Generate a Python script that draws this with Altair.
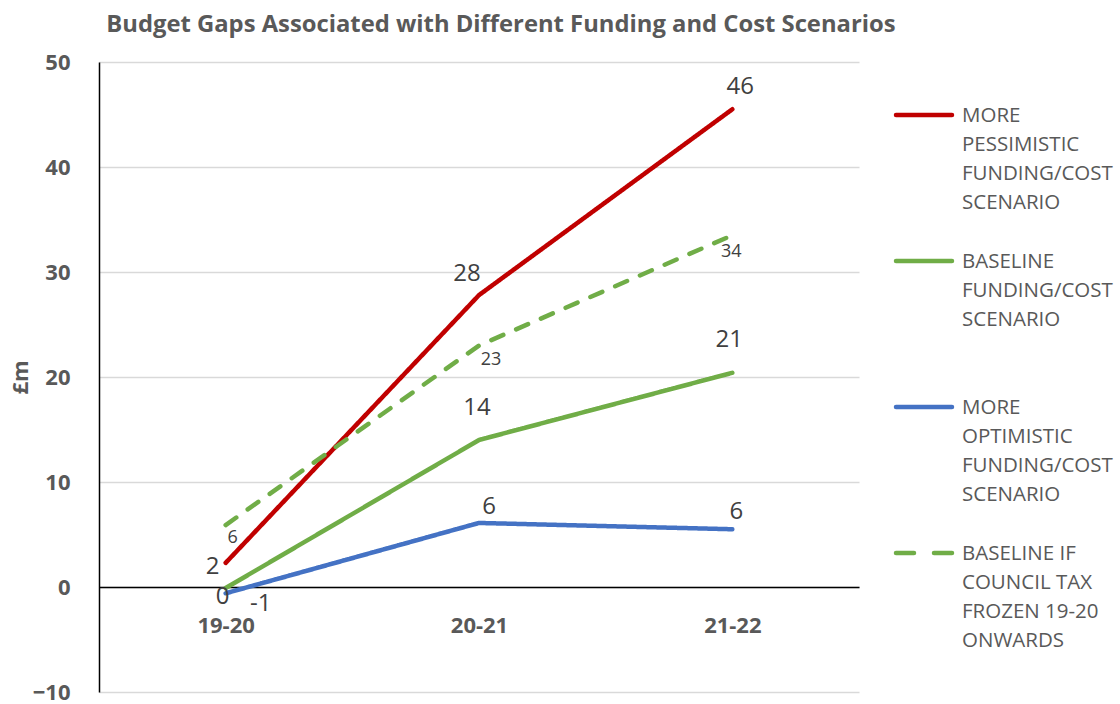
import altair as alt
import pandas as pd

# ---------------- data ----------------
periods = ["19-20", "20-21", "21-22"]
series_keys = ["pessimistic", "baseline", "optimistic", "frozen"]
legend_texts = [
    "MORE\nPESSIMISTIC\nFUNDING/COST\nSCENARIO",
    "BASELINE\nFUNDING/COST\nSCENARIO",
    "MORE\nOPTIMISTIC\nFUNDING/COST\nSCENARIO",
    "BASELINE IF\nCOUNCIL TAX\nFROZEN 19-20\nONWARDS",
]
pessimistic = [2.3, 27.8, 45.5]
baseline = [-0.1, 14.0, 20.4]
optimistic = [-0.6, 6.1, 5.5]
frozen = [5.9, 23.0, 33.5]

pessimistic_labels = ["2", "28", "46"]
baseline_labels = ["0", "14", "21"]
optimistic_labels = ["-1", "6", "6"]
frozen_labels = ["6", "23", "34"]

y_ticks = [-10, 0, 10, 20, 30, 40, 50]
colors = ["#C00000", "#70AD47", "#4472C4", "#70AD47"]

# ---------------- styles ----------------
FONT = "Open Sans"
AXIS_TXT = "#595959"
LABEL_TXT = "#404040"
# label offsets (dx, dy) per series and period, pure styling
label_style = {
    "pessimistic": {"size": 24, "offsets": [(-13, 4), (-12, -21), (8, -22)]},
    "baseline": {"size": 24, "offsets": [(-3, 9), (-2, -32), (-3, -33)]},
    "optimistic": {"size": 24, "offsets": [(35, 11), (10, -16), (4, -17)]},
    "frozen": {"size": 18, "offsets": [(7, 13), (12, 14), (-1, 17)]},
}

# ---------------- tables ----------------
values = {"pessimistic": pessimistic, "baseline": baseline,
          "optimistic": optimistic, "frozen": frozen}
labels = {"pessimistic": pessimistic_labels, "baseline": baseline_labels,
          "optimistic": optimistic_labels, "frozen": frozen_labels}
rows = []
for s in series_keys:
    for i, p in enumerate(periods):
        rows.append({"series": s, "period": p, "value": values[s][i],
                     "label": labels[s][i]})
df = pd.DataFrame(rows)
legend_df = pd.DataFrame({"series": series_keys, "text": legend_texts})

color_scale = alt.Scale(domain=series_keys, range=colors)

x_enc = alt.X(
    "period:N", sort=periods,
    scale=alt.Scale(type="point", padding=0.5),
    axis=alt.Axis(title=None, labelAngle=0, labelFont=FONT, labelFontSize=22,
                  labelFontWeight="bold", labelColor=AXIS_TXT, labelPadding=28,
                  ticks=False, domain=True, domainColor="#000000",
                  domainWidth=1.5, grid=False, offset=-105),
)
y_enc = alt.Y(
    "value:Q",
    scale=alt.Scale(domain=[-10, 50], nice=False, zero=False),
    axis=alt.Axis(values=y_ticks, title="£m", titleFont=FONT, titleFontSize=22,
                  titleFontWeight="bold", titleColor=AXIS_TXT, titlePadding=0,
                  labelFont=FONT, labelFontSize=22, labelFontWeight="bold",
                  labelColor=AXIS_TXT, labelPadding=29, ticks=False,
                  domainColor="#000000", domainWidth=1.5, grid=True,
                  gridColor="#D9D9D9", gridWidth=1.5),
)

lines = alt.Chart(df).mark_line(strokeWidth=4.5, strokeCap="round",
                                strokeJoin="round").encode(
    x=x_enc, y=y_enc,
    color=alt.Color("series:N", scale=color_scale, legend=None),
    strokeDash=alt.StrokeDash(
        "series:N",
        scale=alt.Scale(domain=series_keys,
                        range=[[1, 0], [1, 0], [1, 0], [13, 14]]),
        legend=None),
    detail="series:N",
)

layers = [lines]
for s in series_keys:
    st = label_style[s]
    for i, p in enumerate(periods):
        dx, dy = st["offsets"][i]
        layers.append(
            alt.Chart(df).transform_filter(
                (alt.datum.series == s) & (alt.datum.period == p)
            ).mark_text(font=FONT, fontSize=st["size"], color=LABEL_TXT,
                        align="center", baseline="middle", dx=dx, dy=dy)
            .encode(x=alt.X("period:N", sort=periods), y="value:Q",
                    text="label:N")
        )

main = alt.layer(*layers).properties(width=760, height=630)

leg_y = alt.Y("series:N", sort=series_keys,
              scale=alt.Scale(type="point", padding=0.363), axis=None)
leg_rule = alt.Chart(legend_df).mark_rule(strokeWidth=4.5, strokeCap="round").encode(
    y=leg_y, x=alt.value(2), x2=alt.value(58),
    color=alt.Color("series:N", scale=color_scale, legend=None),
    strokeDash=alt.StrokeDash(
        "series:N",
        scale=alt.Scale(domain=series_keys,
                        range=[[1, 0], [1, 0], [1, 0], [18, 20]]),
        legend=None),
)
leg_text = alt.Chart(legend_df).mark_text(
    font=FONT, fontSize=20.5, color=AXIS_TXT, align="left",
    baseline="alphabetic", dy=7, lineBreak="\n", lineHeight=29,
).encode(y=leg_y, x=alt.value(68), text="text:N")
legend = alt.layer(leg_rule, leg_text).properties(width=222, height=544)

chart = alt.hconcat(main, legend, spacing=35, bounds="flush").resolve_scale(
    strokeDash="independent"
).properties(
    padding={"left": 9, "top": 13, "right": 0, "bottom": 0},
    title=alt.Title("Budget Gaps Associated with Different Funding and Cost Scenarios",
                    anchor="start", dx=97, offset=14, font=FONT, fontSize=23.8,
                    fontWeight="bold", color=AXIS_TXT),
).configure_view(stroke=None)

chart.save("out.html", embed_options={"renderer": "svg", "actions": False})
